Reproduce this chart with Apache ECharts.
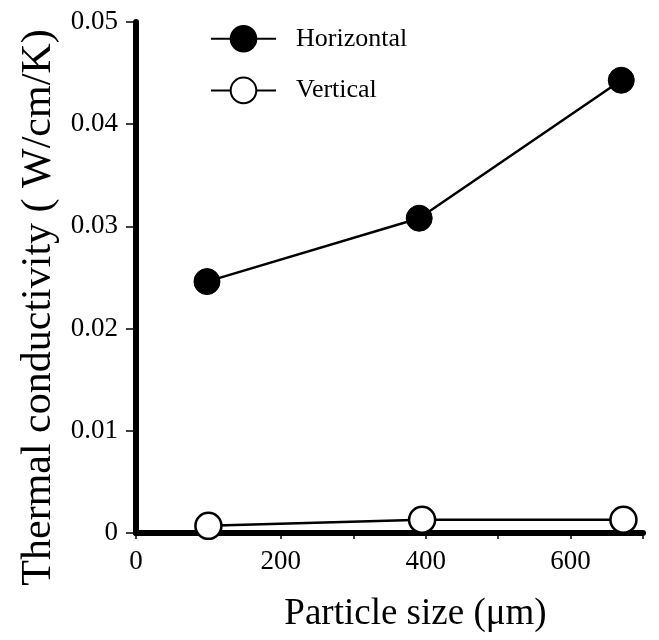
<!DOCTYPE html>
<html>
<head>
<meta charset="utf-8">
<script src="https://cdn.jsdelivr.net/npm/echarts@6/dist/echarts.min.js"></script>
<style>
  html, body { margin: 0; padding: 0; background: #fff; }
  #chart { width: 659px; height: 640px; }
</style>
</head>
<body>
<div id="chart"></div>
<script>
const seriesNames = ['Horizontal', 'Vertical']
const horizSize = [98, 391, 670]
const horizK = [0.0246, 0.0308, 0.0443]
const vertSize = [100, 395, 673]
const vertK = [0.0007, 0.0013, 0.0013]

const font = 'Liberation Serif'
const ink = '#000'

const chart = echarts.init(document.getElementById('chart'))

const option = {
  backgroundColor: '#fff',
  animation: false,
  grid: {
    left: 136,
    top: 22,
    right: 16,
    bottom: 107
  },
  legend: {
    orient: 'vertical',
    left: 205,
    top: 20,
    itemWidth: 65,
    itemHeight: 32,
    itemGap: 24,
    data: seriesNames,
    lineStyle: { width: 2 },
    textStyle: {
      fontFamily: font,
      fontSize: 26,
      color: ink,
      padding: [0, 0, 0, 15]
    }
  },
  xAxis: {
    type: 'value',
    min: 0,
    max: 700,
    interval: 100,
    name: 'Particle size (μm)',
    nameLocation: 'middle',
    nameGap: 63,
    nameTextStyle: {
      fontFamily: font,
      fontSize: 37,
      color: ink,
      padding: [0, 0, 0, 52]
    },
    axisLine: { lineStyle: { color: ink, width: 6 } },
    axisTick: { show: true, length: 6, lineStyle: { color: ink, width: 1.5 } },
    axisLabel: {
      fontFamily: font,
      fontSize: 27,
      color: ink,
      margin: 15,
      formatter: function (v) { return v % 200 === 0 ? String(v) : '' }
    },
    splitLine: { show: false }
  },
  yAxis: {
    type: 'value',
    min: 0,
    max: 0.05,
    interval: 0.01,
    name: 'Thermal conductivity ( W/cm/K)',
    nameLocation: 'middle',
    nameGap: 76,
    nameTextStyle: {
      fontFamily: font,
      fontSize: 42,
      color: ink,
      padding: [0, 60, 0, 0]
    },
    axisLine: { lineStyle: { color: ink, width: 6 } },
    axisTick: { show: true, length: 10, lineStyle: { color: ink, width: 1.5 } },
    axisLabel: {
      fontFamily: font,
      fontSize: 27,
      color: ink,
      margin: 18,
      formatter: function (v) { return v === 0 ? '0' : v.toFixed(2) }
    },
    splitLine: { show: false }
  },
  series: [
    {
      name: seriesNames[0],
      type: 'line',
      data: horizSize.map((x, i) => [x, horizK[i]]),
      symbol: 'circle',
      symbolSize: 26,
      lineStyle: { color: ink, width: 2.5 },
      itemStyle: { color: ink, borderColor: ink, borderWidth: 1 }
    },
    {
      name: seriesNames[1],
      type: 'line',
      data: vertSize.map((x, i) => [x, vertK[i]]),
      symbol: 'circle',
      symbolSize: 26,
      lineStyle: { color: ink, width: 2.5 },
      itemStyle: { color: '#fff', borderColor: ink, borderWidth: 2.5 }
    }
  ]
}

chart.setOption(option)
</script>
</body>
</html>
